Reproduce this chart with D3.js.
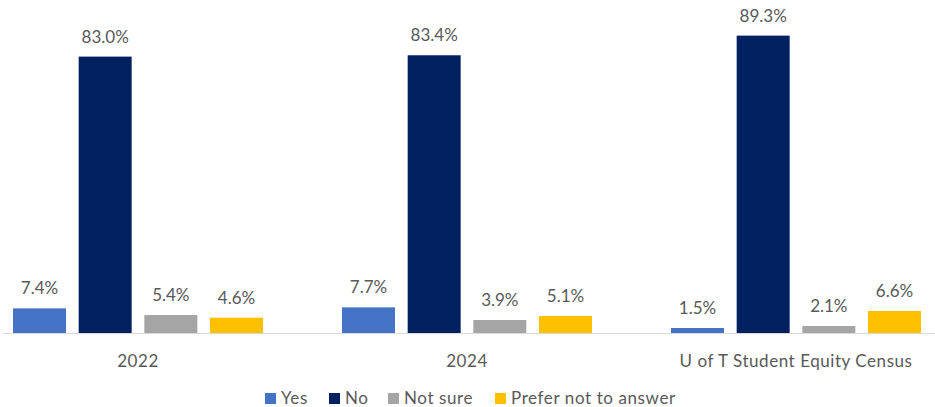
<!DOCTYPE html>
<html>
<head>
<meta charset="utf-8">
<script src="https://cdn.jsdelivr.net/npm/d3@7"></script>
<style>
  body { margin: 0; background: #fff; }
  text { font-family: Lato, "Open Sans", sans-serif; fill: #595959; }
</style>
</head>
<body>
<svg id="chart" width="935" height="407"></svg>
<script>
const categories = ['2022', '2024', 'U of T Student Equity Census'];
const seriesNames = ['Yes', 'No', 'Not sure', 'Prefer not to answer'];
const yesValues = [7.4, 7.7, 1.5];
const noValues = [83.0, 83.4, 89.3];
const notSureValues = [5.4, 3.9, 2.1];
const preferNotValues = [4.6, 5.1, 6.6];
const colors = ['#4472C4', '#002060', '#A5A5A5', '#FFC000'];

const seriesValues = [yesValues, noValues, notSureValues, preferNotValues];

const svg = d3.select('#chart');
const baseY = 333;

// group scale, plot is a bit wider than the picture on the left
const x0 = d3.scaleBand()
  .domain(categories)
  .range([-26.5, 960.5]);

const x1 = d3.scaleBand()
  .domain(seriesNames)
  .range([x0.bandwidth() / 2 - 125, x0.bandwidth() / 2 + 125])
  .paddingInner(0.193);

const y = d3.scaleLinear().domain([0, 100]).range([baseY, 0]);

const rows = [];
categories.forEach((c, ci) => {
  seriesNames.forEach((s, si) => {
    rows.push({ cat: c, series: s, value: seriesValues[si][ci], color: colors[si] });
  });
});

const g = svg.append('g');

g.selectAll('rect.bar')
  .data(rows)
  .enter()
  .append('rect')
  .attr('class', 'bar')
  .attr('x', d => x0(d.cat) + x1(d.series))
  .attr('y', d => y(d.value))
  .attr('width', x1.bandwidth())
  .attr('height', d => baseY - y(d.value))
  .attr('fill', d => d.color);

g.selectAll('text.val')
  .data(rows)
  .enter()
  .append('text')
  .attr('class', 'val')
  .attr('x', d => x0(d.cat) + x1(d.series) + x1.bandwidth() / 2)
  .attr('y', d => y(d.value) - 14)
  .attr('text-anchor', 'middle')
  .style('font-size', '17px')
  .text(d => d.value.toFixed(1) + '%');

// x axis line
g.append('line')
  .attr('x1', 3)
  .attr('x2', 935)
  .attr('y1', baseY + 0.5)
  .attr('y2', baseY + 0.5)
  .attr('stroke', '#D9D9D9')
  .attr('stroke-width', 1);

g.selectAll('text.cat')
  .data(categories)
  .enter()
  .append('text')
  .attr('class', 'cat')
  .attr('x', d => x0(d) + x0.bandwidth() / 2)
  .attr('y', 367)
  .attr('text-anchor', 'middle')
  .style('font-size', '17px')
  .style('letter-spacing', '0.55px')
  .text(d => d);

// legend
const legendX = [265, 329, 388, 495];
const legend = svg.append('g')
  .selectAll('g')
  .data(seriesNames)
  .enter()
  .append('g')
  .attr('transform', (d, i) => `translate(${legendX[i]},393)`);

legend.append('rect')
  .attr('width', 11)
  .attr('height', 11)
  .attr('fill', (d, i) => colors[i]);

legend.append('text')
  .attr('x', 16)
  .attr('y', 11)
  .style('font-size', '17px')
  .style('letter-spacing', '0.6px')
  .text(d => d);
</script>
</body>
</html>
